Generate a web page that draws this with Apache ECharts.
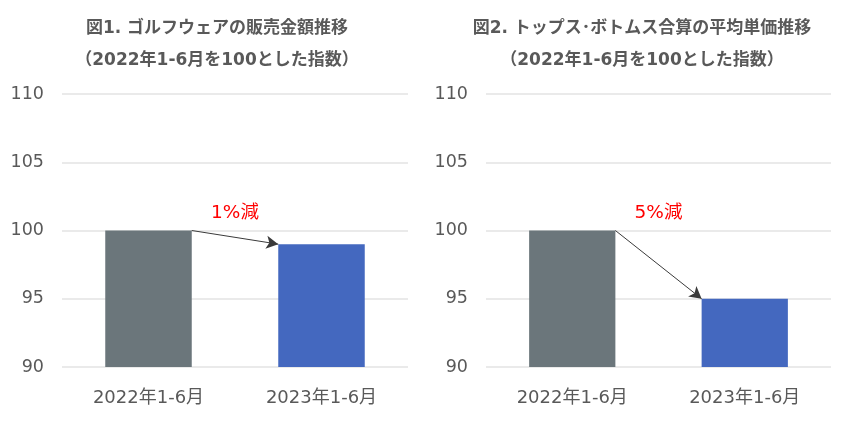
<!DOCTYPE html>
<html>
<head>
<meta charset="utf-8">
<script src="https://cdn.jsdelivr.net/npm/echarts@6/dist/echarts.min.js"></script>
<style>html,body{margin:0;padding:0;background:#fff;}#c{width:849px;height:421px;}</style>
</head>
<body>
<div id="c"></div>
<script>
const categories = ['2022年1-6月', '2023年1-6月'];
const golfSales = [100, 99];
const avgPrice = [100, 95];
const yTicks = [90, 95, 100, 105, 110];
const changeLabels = ['1%減', '5%減'];
const titles = ['図1. ゴルフウェアの販売金額推移\n（2022年1-6月を100とした指数）',
                '図2. トップス･ボトムス合算の平均単価推移\n（2022年1-6月を100とした指数）'];

const barColors = ['#6b767b', '#4468bf'];
const FONT = '"DejaVu Sans", Verdana, "Noto Sans CJK JP", sans-serif';
const chart = echarts.init(document.getElementById('c'));

const grids = [
  {left: 62, right: 441, top: 94, bottom: 54},
  {left: 486, right: 18, top: 94, bottom: 54}
];
const seriesData = [golfSales, avgPrice];

const xAxes = [], yAxes = [], series = [];
grids.forEach((g, i) => {
  xAxes.push({
    type: 'category', gridIndex: i, data: categories,
    axisLine: {show: false}, axisTick: {show: false},
    axisLabel: {color: '#595959', fontSize: 18, fontFamily: FONT, margin: 22}
  });
  yAxes.push({
    type: 'value', gridIndex: i, min: yTicks[0], max: yTicks[yTicks.length - 1], interval: yTicks[1] - yTicks[0],
    axisLine: {show: false}, axisTick: {show: false},
    axisLabel: {color: '#595959', fontSize: 17.5, fontFamily: FONT, margin: 18},
    splitLine: {lineStyle: {color: '#e3e3e3', width: 1.5}}
  });
});
// hidden value x-axes matching category bands (index units) for the arrow annotation
grids.forEach((g, i) => {
  xAxes.push({type: 'value', gridIndex: i, min: -0.5, max: 1.5, show: false});
});

grids.forEach((g, i) => {
  const vals = seriesData[i];
  series.push({
    type: 'bar', xAxisIndex: i, yAxisIndex: i, barWidth: '50%',
    data: vals.map((v, k) => ({value: v, itemStyle: {color: barColors[k]}})),
    silent: true
  });
  series.push({
    type: 'line', xAxisIndex: 2 + i, yAxisIndex: i, data: [], silent: true,
    markLine: {
      silent: true,
      symbol: ['none', 'arrow'], symbolSize: [10, 12],
      lineStyle: {color: '#3a3a3a', width: 1, type: 'solid'},
      label: {show: false},
      data: [[{coord: [0.25, vals[0]]}, {coord: [0.75, vals[1]]}]]
    },
    markPoint: {
      silent: true, symbol: 'circle', symbolSize: 0,
      label: {show: true, position: 'inside', formatter: changeLabels[i], color: '#ff0000', fontSize: 18.5, fontFamily: FONT},
      data: [{coord: [0.5, vals[0] + 1.3]}]
    }
  });
});

chart.setOption({
  animation: false,
  title: titles.map((t, i) => ({
    text: t, left: i === 0 ? 212 : 637, top: 8, textAlign: 'center',
    textStyle: {fontSize: 17, fontWeight: 'bold', color: '#595959', fontFamily: FONT, lineHeight: 32}
  })),
  grid: grids,
  xAxis: xAxes,
  yAxis: yAxes,
  series: series
});
</script>
</body>
</html>
